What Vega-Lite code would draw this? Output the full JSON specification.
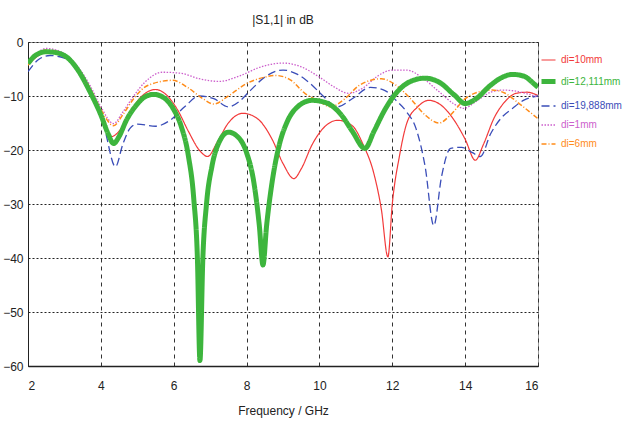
{
  "$schema": "https://vega.github.io/schema/vega-lite/v6.json",
  "width": 510,
  "height": 324,
  "autosize": "none",
  "padding": {"left": 28, "top": 42, "right": 88, "bottom": 57},
  "background": "white",
  "title": {"text": "|S1,1| in dB", "fontSize": 12, "font": "Liberation Sans, sans-serif", "fontWeight": "normal", "color": "#222", "offset": 9, "anchor": "middle"},
  "config": {
    "font": "Liberation Sans, sans-serif",
    "view": {"stroke": "#999", "strokeWidth": 1}
  },
  "data": {"values": [
    {"s":"di=10mm","f":2.0,"v":-4.2},{"s":"di=10mm","f":2.5,"v":-2.0},{"s":"di=10mm","f":2.9,"v":-2.3},{"s":"di=10mm","f":3.3,"v":-4.5},{"s":"di=10mm","f":3.7,"v":-9},{"s":"di=10mm","f":4.0,"v":-13},{"s":"di=10mm","f":4.3,"v":-17.5},{"s":"di=10mm","f":4.5,"v":-16.5},{"s":"di=10mm","f":4.8,"v":-13},{"s":"di=10mm","f":5.1,"v":-10.2},{"s":"di=10mm","f":5.5,"v":-8.8},{"s":"di=10mm","f":5.8,"v":-9.8},{"s":"di=10mm","f":6.1,"v":-12.5},{"s":"di=10mm","f":6.4,"v":-16.5},{"s":"di=10mm","f":6.7,"v":-20},{"s":"di=10mm","f":6.93,"v":-21.2},{"s":"di=10mm","f":7.2,"v":-18.5},{"s":"di=10mm","f":7.5,"v":-15},{"s":"di=10mm","f":7.9,"v":-13.2},{"s":"di=10mm","f":8.3,"v":-14.2},{"s":"di=10mm","f":8.7,"v":-18},{"s":"di=10mm","f":9.0,"v":-22.5},{"s":"di=10mm","f":9.3,"v":-25.3},{"s":"di=10mm","f":9.5,"v":-23.5},{"s":"di=10mm","f":9.8,"v":-19},{"s":"di=10mm","f":10.1,"v":-16},{"s":"di=10mm","f":10.5,"v":-14.5},{"s":"di=10mm","f":10.9,"v":-15.5},{"s":"di=10mm","f":11.2,"v":-19},{"s":"di=10mm","f":11.5,"v":-24.5},{"s":"di=10mm","f":11.7,"v":-31},{"s":"di=10mm","f":11.88,"v":-39.8},{"s":"di=10mm","f":12.0,"v":-30},{"s":"di=10mm","f":12.2,"v":-21},{"s":"di=10mm","f":12.4,"v":-15},{"s":"di=10mm","f":12.7,"v":-12},{"s":"di=10mm","f":13.0,"v":-10.8},{"s":"di=10mm","f":13.3,"v":-11.5},{"s":"di=10mm","f":13.7,"v":-14.5},{"s":"di=10mm","f":14.0,"v":-18},{"s":"di=10mm","f":14.28,"v":-21.9},{"s":"di=10mm","f":14.5,"v":-19},{"s":"di=10mm","f":14.8,"v":-14},{"s":"di=10mm","f":15.1,"v":-11},{"s":"di=10mm","f":15.4,"v":-9.5},{"s":"di=10mm","f":15.7,"v":-9.3},{"s":"di=10mm","f":16.0,"v":-9.9},

    {"s":"di=19,888mm","f":2.0,"v":-5.5},{"s":"di=19,888mm","f":2.3,"v":-3.2},{"s":"di=19,888mm","f":2.6,"v":-2.5},{"s":"di=19,888mm","f":3.0,"v":-3},{"s":"di=19,888mm","f":3.4,"v":-5.5},{"s":"di=19,888mm","f":3.8,"v":-10},{"s":"di=19,888mm","f":4.1,"v":-16},{"s":"di=19,888mm","f":4.4,"v":-23.1},{"s":"di=19,888mm","f":4.6,"v":-19},{"s":"di=19,888mm","f":4.8,"v":-16},{"s":"di=19,888mm","f":5.0,"v":-15.2},{"s":"di=19,888mm","f":5.5,"v":-15.6},{"s":"di=19,888mm","f":5.9,"v":-14.5},{"s":"di=19,888mm","f":6.3,"v":-12},{"s":"di=19,888mm","f":6.7,"v":-10},{"s":"di=19,888mm","f":7.1,"v":-10.5},{"s":"di=19,888mm","f":7.5,"v":-12},{"s":"di=19,888mm","f":7.8,"v":-11},{"s":"di=19,888mm","f":8.1,"v":-9},{"s":"di=19,888mm","f":8.5,"v":-6.5},{"s":"di=19,888mm","f":9.0,"v":-5.2},{"s":"di=19,888mm","f":9.4,"v":-6},{"s":"di=19,888mm","f":9.8,"v":-8},{"s":"di=19,888mm","f":10.1,"v":-10},{"s":"di=19,888mm","f":10.5,"v":-12},{"s":"di=19,888mm","f":10.9,"v":-10.5},{"s":"di=19,888mm","f":11.4,"v":-8.4},{"s":"di=19,888mm","f":11.8,"v":-9},{"s":"di=19,888mm","f":12.1,"v":-10.8},{"s":"di=19,888mm","f":12.4,"v":-13},{"s":"di=19,888mm","f":12.65,"v":-16},{"s":"di=19,888mm","f":12.9,"v":-23},{"s":"di=19,888mm","f":13.14,"v":-34},{"s":"di=19,888mm","f":13.35,"v":-25},{"s":"di=19,888mm","f":13.6,"v":-19.7},{"s":"di=19,888mm","f":13.9,"v":-19.5},{"s":"di=19,888mm","f":14.2,"v":-20.5},{"s":"di=19,888mm","f":14.42,"v":-21.2},{"s":"di=19,888mm","f":14.7,"v":-17},{"s":"di=19,888mm","f":15.0,"v":-14},{"s":"di=19,888mm","f":15.3,"v":-12.3},{"s":"di=19,888mm","f":15.6,"v":-10.8},{"s":"di=19,888mm","f":16.0,"v":-10},

    {"s":"di=1mm","f":2.0,"v":-4},{"s":"di=1mm","f":2.5,"v":-1.2},{"s":"di=1mm","f":2.9,"v":-1.8},{"s":"di=1mm","f":3.3,"v":-4},{"s":"di=1mm","f":3.7,"v":-8},{"s":"di=1mm","f":4.0,"v":-12},{"s":"di=1mm","f":4.35,"v":-15.1},{"s":"di=1mm","f":4.6,"v":-13},{"s":"di=1mm","f":4.9,"v":-10},{"s":"di=1mm","f":5.2,"v":-7.5},{"s":"di=1mm","f":5.7,"v":-5.6},{"s":"di=1mm","f":6.2,"v":-5.8},{"s":"di=1mm","f":6.7,"v":-6.8},{"s":"di=1mm","f":7.25,"v":-7.3},{"s":"di=1mm","f":7.8,"v":-6.3},{"s":"di=1mm","f":8.4,"v":-4.6},{"s":"di=1mm","f":9.0,"v":-3.9},{"s":"di=1mm","f":9.5,"v":-4.6},{"s":"di=1mm","f":10.0,"v":-6.5},{"s":"di=1mm","f":10.4,"v":-8.3},{"s":"di=1mm","f":10.8,"v":-9.5},{"s":"di=1mm","f":11.2,"v":-8.5},{"s":"di=1mm","f":11.6,"v":-6.3},{"s":"di=1mm","f":12.0,"v":-5.2},{"s":"di=1mm","f":12.4,"v":-5.2},{"s":"di=1mm","f":12.8,"v":-6.5},{"s":"di=1mm","f":13.3,"v":-9.3},{"s":"di=1mm","f":13.7,"v":-11.5},{"s":"di=1mm","f":13.96,"v":-12.3},{"s":"di=1mm","f":14.3,"v":-11},{"s":"di=1mm","f":14.7,"v":-9.3},{"s":"di=1mm","f":15.0,"v":-8.9},{"s":"di=1mm","f":15.4,"v":-9.1},{"s":"di=1mm","f":15.8,"v":-9.8},{"s":"di=1mm","f":16.0,"v":-10.2},

    {"s":"di=6mm","f":2.0,"v":-4.3},{"s":"di=6mm","f":2.5,"v":-1.5},{"s":"di=6mm","f":2.9,"v":-2.0},{"s":"di=6mm","f":3.3,"v":-4.2},{"s":"di=6mm","f":3.7,"v":-8.5},{"s":"di=6mm","f":4.0,"v":-12.5},{"s":"di=6mm","f":4.35,"v":-15.5},{"s":"di=6mm","f":4.6,"v":-13.5},{"s":"di=6mm","f":4.9,"v":-10.5},{"s":"di=6mm","f":5.3,"v":-8},{"s":"di=6mm","f":5.97,"v":-7.1},{"s":"di=6mm","f":6.4,"v":-8.5},{"s":"di=6mm","f":6.8,"v":-10.5},{"s":"di=6mm","f":7.1,"v":-11.5},{"s":"di=6mm","f":7.5,"v":-10},{"s":"di=6mm","f":8.0,"v":-7.7},{"s":"di=6mm","f":8.5,"v":-6.5},{"s":"di=6mm","f":8.8,"v":-6.2},{"s":"di=6mm","f":9.2,"v":-7},{"s":"di=6mm","f":9.6,"v":-9.5},{"s":"di=6mm","f":10.0,"v":-11},{"s":"di=6mm","f":10.3,"v":-12},{"s":"di=6mm","f":10.7,"v":-10.5},{"s":"di=6mm","f":11.1,"v":-8},{"s":"di=6mm","f":11.7,"v":-6.8},{"s":"di=6mm","f":12.1,"v":-8},{"s":"di=6mm","f":12.5,"v":-10.5},{"s":"di=6mm","f":12.9,"v":-13.5},{"s":"di=6mm","f":13.28,"v":-15},{"s":"di=6mm","f":13.6,"v":-13.5},{"s":"di=6mm","f":14.0,"v":-10.5},{"s":"di=6mm","f":14.4,"v":-9.2},{"s":"di=6mm","f":14.74,"v":-8.9},{"s":"di=6mm","f":15.1,"v":-9.5},{"s":"di=6mm","f":15.5,"v":-11.5},{"s":"di=6mm","f":16.0,"v":-14.2},

    {"s":"di=12,111mm","f":2.0,"v":-4.0},{"s":"di=12,111mm","f":2.2,"v":-2.5},{"s":"di=12,111mm","f":2.5,"v":-1.8},{"s":"di=12,111mm","f":2.8,"v":-2.0},{"s":"di=12,111mm","f":3.1,"v":-3.0},{"s":"di=12,111mm","f":3.4,"v":-5.5},{"s":"di=12,111mm","f":3.7,"v":-9.2},{"s":"di=12,111mm","f":4.0,"v":-13.5},{"s":"di=12,111mm","f":4.2,"v":-17.0},{"s":"di=12,111mm","f":4.35,"v":-18.8},{"s":"di=12,111mm","f":4.5,"v":-17.5},{"s":"di=12,111mm","f":4.7,"v":-14.5},{"s":"di=12,111mm","f":5.0,"v":-11.5},{"s":"di=12,111mm","f":5.2,"v":-10.2},{"s":"di=12,111mm","f":5.45,"v":-9.7},{"s":"di=12,111mm","f":5.7,"v":-10.2},{"s":"di=12,111mm","f":6.0,"v":-12.5},{"s":"di=12,111mm","f":6.2,"v":-15.5},{"s":"di=12,111mm","f":6.4,"v":-21},{"s":"di=12,111mm","f":6.55,"v":-29},{"s":"di=12,111mm","f":6.65,"v":-40},{"s":"di=12,111mm","f":6.72,"v":-59},{"s":"di=12,111mm","f":6.8,"v":-40},{"s":"di=12,111mm","f":6.9,"v":-30},{"s":"di=12,111mm","f":7.05,"v":-23},{"s":"di=12,111mm","f":7.25,"v":-18.5},{"s":"di=12,111mm","f":7.5,"v":-16.7},{"s":"di=12,111mm","f":7.75,"v":-17.5},{"s":"di=12,111mm","f":8.0,"v":-20.5},{"s":"di=12,111mm","f":8.2,"v":-26},{"s":"di=12,111mm","f":8.35,"v":-34},{"s":"di=12,111mm","f":8.45,"v":-41.3},{"s":"di=12,111mm","f":8.55,"v":-34},{"s":"di=12,111mm","f":8.7,"v":-26},{"s":"di=12,111mm","f":8.9,"v":-19},{"s":"di=12,111mm","f":9.1,"v":-15},{"s":"di=12,111mm","f":9.4,"v":-12},{"s":"di=12,111mm","f":9.8,"v":-10.8},{"s":"di=12,111mm","f":10.2,"v":-11.3},{"s":"di=12,111mm","f":10.6,"v":-13.5},{"s":"di=12,111mm","f":10.9,"v":-16.5},{"s":"di=12,111mm","f":11.25,"v":-19.7},{"s":"di=12,111mm","f":11.5,"v":-16.5},{"s":"di=12,111mm","f":11.8,"v":-12.5},{"s":"di=12,111mm","f":12.1,"v":-9.5},{"s":"di=12,111mm","f":12.5,"v":-7.3},{"s":"di=12,111mm","f":12.9,"v":-6.7},{"s":"di=12,111mm","f":13.3,"v":-7.5},{"s":"di=12,111mm","f":13.7,"v":-9.8},{"s":"di=12,111mm","f":14.0,"v":-11.4},{"s":"di=12,111mm","f":14.3,"v":-10.5},{"s":"di=12,111mm","f":14.7,"v":-8.0},{"s":"di=12,111mm","f":15.0,"v":-6.6},{"s":"di=12,111mm","f":15.3,"v":-6.0},{"s":"di=12,111mm","f":15.6,"v":-6.3},{"s":"di=12,111mm","f":15.9,"v":-7.8},{"s":"di=12,111mm","f":16.0,"v":-8.4}
  ]},
  "mark": {"type": "line", "interpolate": "monotone", "clip": true},
  "encoding": {
    "x": {"field": "f", "type": "quantitative",
      "scale": {"domain": [2, 16], "nice": false, "zero": false},
      "axis": {"values": [2,4,6,8,10,12,14,16], "title": "Frequency / GHz", "titleFontSize": 12, "titleFontWeight": "normal", "titleColor": "#222", "titlePadding": 14,
        "labelFontSize": 12, "labelColor": "#222", "labelPadding": 14, "ticks": false, "domainColor": "#222", "domainWidth": 1.5,
        "grid": true, "gridColor": "#333", "gridDash": [4, 4], "gridWidth": 1}},
    "y": {"field": "v", "type": "quantitative",
      "scale": {"domain": [-60, 0], "nice": false, "zero": false},
      "axis": {"values": [0,-10,-20,-30,-40,-50,-60], "title": null,
        "labelFontSize": 12, "labelColor": "#222", "labelPadding": 5, "ticks": false, "domainColor": "#222", "domainWidth": 1,
        "grid": true, "gridColor": "#222", "gridDash": [2, 2], "gridWidth": 1}},
    "color": {"field": "s", "type": "nominal", "title": null,
      "scale": {"domain": ["di=10mm","di=12,111mm","di=19,888mm","di=1mm","di=6mm"],
                "range": ["#f23a3a","#3db53d","#3a4db8","#cc5fcc","#ff8c1a"]},
      "legend": {"orient": "none", "legendX": 511, "legendY": 10, "symbolType": "stroke", "symbolSize": 196,
        "labelFontSize": 10, "labelOffset": 3, "rowPadding": 6, "labelLimit": 200,
        "encode": {"labels": {"update": {"fill": {"signal": "scale('color', datum.value)"}}}}}},
    "strokeWidth": {"field": "s", "type": "ordinal", "title": null,
      "scale": {"type": "ordinal", "domain": ["di=10mm","di=12,111mm","di=19,888mm","di=1mm","di=6mm"], "range": [1.2, 5, 1.3, 1.3, 1.5]}},
    "strokeDash": {"field": "s", "type": "nominal", "title": null,
      "scale": {"domain": ["di=10mm","di=12,111mm","di=19,888mm","di=1mm","di=6mm"], "range": [[1,0],[1,0],[8,4],[1.5,1.5],[5,2,1,2]]}}
  }
}
